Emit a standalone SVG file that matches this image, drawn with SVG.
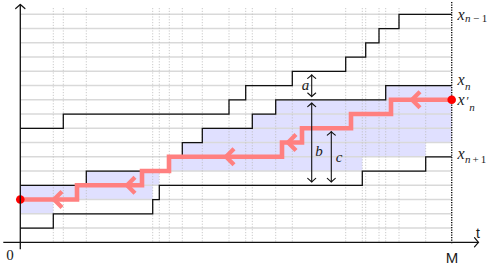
<svg xmlns="http://www.w3.org/2000/svg" width="499" height="268" viewBox="0 0 499 268">
<defs>
<style>
.hgrid{stroke:#d9d9d9;stroke-width:1.4;fill:none}
.vgrid{stroke:#bdbdbd;stroke-width:0.8;stroke-dasharray:1.2 1.6;fill:none}
.curve{stroke:#111;stroke-width:1.3;fill:none}
.region{fill:#e0e0ff;stroke:none}
.red{stroke:#ff8080;stroke-width:4.6;fill:none;stroke-linejoin:miter}
.chev{stroke:#ff8080;stroke-width:4.3;fill:none;stroke-linejoin:round}
.dot{fill:#ff0000}
.dim{stroke:#111;stroke-width:1.1;fill:none;marker-start:url(#tip);marker-end:url(#tip)}
.axis{stroke:#111;stroke-width:1.3;fill:none}
.m{font-family:"Liberation Serif",serif;font-style:italic;fill:#1a1a1a}
.r{font-family:"Liberation Serif",serif;fill:#1a1a1a}
.up{font-style:normal}
.s{font-family:"Liberation Sans",sans-serif;fill:#1a1a1a}
</style>
<marker id="tip" viewBox="-6 -6 8 12" markerWidth="8" markerHeight="12" refX="0" refY="0" orient="auto-start-reverse" markerUnits="userSpaceOnUse">
<path d="M-3.6,-4 Q-1,-1 0,0 Q-1,1 -3.6,4" stroke="#111" stroke-width="1.1" fill="none" stroke-linecap="round"/>
</marker>
<marker id="atip" viewBox="-7 -7 9 14" markerWidth="9" markerHeight="14" refX="0" refY="0" orient="auto" markerUnits="userSpaceOnUse">
<path d="M-4,-4.6 Q-1.2,-1.2 0,0 Q-1.2,1.2 -4,4.6" stroke="#111" stroke-width="1.2" fill="none" stroke-linecap="round"/>
</marker>
<path id="chevron" d="M8,-8 Q2,-2 0,0 Q2,2 8,8"/>
</defs>

<g id="region">
<path class="region" d="M20.3,185.3 H86.3 V171.05 H169.3 V156.8 H182.3 V142.55 H202.3 V128.3 H252.3 V114.05 H275.7 V99.8 H385.7 V85.55 H451.7 V142.55 H425.7 V156.8 H362.3 V171.05 H159.3 V185.3 H152.7 V199.55 H53.3 V213.8 H20.3 Z"/>
</g>

<g id="grid">
<path class="hgrid" d="M20.3,14.3H451.7 M20.3,28.55H451.7 M20.3,42.8H451.7 M20.3,57.05H451.7 M20.3,71.3H451.7 M20.3,85.55H451.7 M20.3,99.8H451.7 M20.3,114.05H451.7 M20.3,128.3H451.7 M20.3,142.55H451.7 M20.3,156.8H451.7 M20.3,171.05H451.7 M20.3,185.3H451.7 M20.3,199.55H451.7 M20.3,213.8H451.7 M20.3,228.05H451.7"/>
<path class="vgrid" d="M53.3,8V242 M63.3,8V242 M86.3,8V242 M152.7,8V242 M159.3,8V242 M169.3,8V242 M182.3,8V242 M202.3,8V242 M229,8V242 M245.7,8V242 M252.3,8V242 M275.7,8V242 M292.3,8V242 M345.7,8V242 M362.3,8V242 M365.7,8V242 M379,8V242 M385.7,8V242 M399,8V242 M425.7,8V242"/>
<path d="M451.7,2V244" stroke="#111" stroke-width="1.4" stroke-dasharray="1.2 1.3" fill="none"/>
</g>

<g id="curves">
<path id="x-n-1" class="curve" d="M20.3,128.3 H63.3 V114.05 H229 V99.8 H245.7 V85.55 H292.3 V71.3 H345.7 V57.05 H365.7 V42.8 H379 V28.55 H399 V14.3 H451.7"/>
<path id="x-n" class="curve" d="M20.3,185.3 H86.3 V171.05 H169.3 V156.8 H182.3 V142.55 H202.3 V128.3 H252.3 V114.05 H275.7 V99.8 H385.7 V85.55 H451.7"/>
<path id="x-n+1" class="curve" d="M20.3,228.05 H53.3 V213.8 H152.7 V199.55 H159.3 V185.3 H362.3 V171.05 H425.7 V156.8 H451.7"/>
</g>

<g id="path-red">
<path class="red" d="M451.7,99.8 H391 V114.05 H351 V128.3 H302 V142.55 H282 V156.8 H169 V171.05 H142 V185.3 H77 V199.55 H20.3"/>
<g class="chev">
<use href="#chevron" x="412" y="99.8"/>
<use href="#chevron" x="288" y="142.55"/>
<use href="#chevron" x="226" y="156.8"/>
<use href="#chevron" x="127" y="185.3"/>
<use href="#chevron" x="54" y="199.55"/>
</g>
<circle class="dot" cx="451.7" cy="99.8" r="4.3"/>
<circle class="dot" cx="20.3" cy="199.55" r="4.3"/>
</g>

<g id="connectors">
<path class="dim" d="M311.7,74.8V96.6"/>
<path class="dim" d="M311.7,103V182"/>
<path class="dim" d="M331.3,131.6V182"/>
</g>

<g id="axes">
<path class="axis" d="M20.3,249.3V4.5" marker-end="url(#atip)"/>
<path class="axis" d="M3.3,242.3H478.5" marker-end="url(#atip)"/>
</g>

<g id="labels">
<text class="m" x="457.5" y="19.5" font-size="16">x<tspan font-size="11" dx="0.5" dy="2.5">n</tspan><tspan class="up" font-size="11" dx="2.5">−</tspan><tspan class="up" font-size="11" dx="2.5">1</tspan></text>
<text class="m" x="457.5" y="85.3" font-size="16">x<tspan font-size="11" dx="0.5" dy="5">n</tspan></text>
<text class="m" x="457.5" y="105" font-size="16">x<tspan class="up" font-size="12" dx="2" dy="-0.5">′</tspan><tspan font-size="11" dx="0" dy="6">n</tspan></text>
<text class="m" x="457.5" y="159.3" font-size="16">x<tspan font-size="11" dx="0.5" dy="4">n</tspan><tspan class="up" font-size="11" dx="2">+</tspan><tspan class="up" font-size="11" dx="2">1</tspan></text>

<text class="m" x="305.5" y="90" font-size="15" text-anchor="middle">a</text>
<text class="m" x="319" y="156" font-size="15" text-anchor="middle">b</text>
<text class="m" x="339" y="161.7" font-size="15" text-anchor="middle">c</text>

<text class="r" x="10" y="260" font-size="15" text-anchor="middle">0</text>
<text class="s" x="452" y="262.5" font-size="15" text-anchor="middle">M</text>
<text class="s" x="478" y="237.5" font-size="14" text-anchor="middle">t</text>
</g>
</svg>
